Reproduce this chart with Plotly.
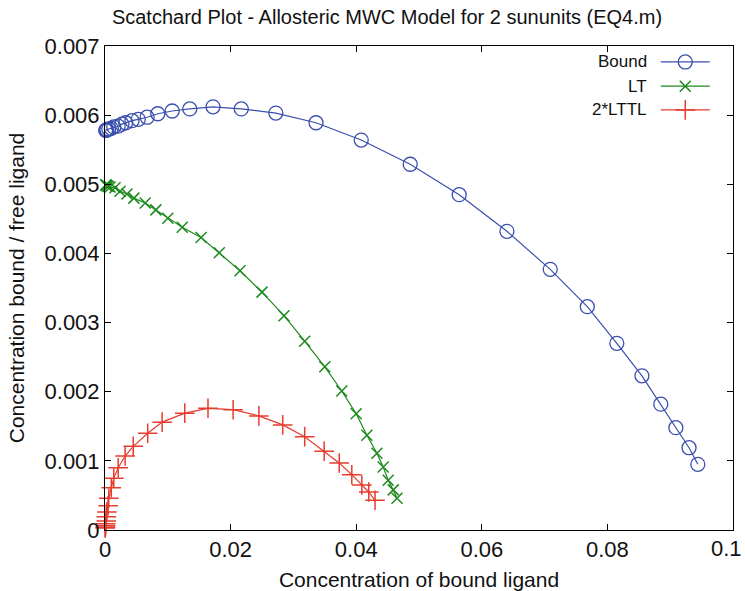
import plotly.graph_objects as go

# ---------------- data ----------------
bound_x = [0.0001, 0.0002, 0.0003, 0.0006, 0.0010, 0.0014, 0.0021, 0.0027, 0.0033,
           0.0043, 0.0053, 0.0067, 0.0084, 0.0107, 0.0135, 0.0172, 0.0217, 0.0272,
           0.0336, 0.0408, 0.0486, 0.0564, 0.0640, 0.0709, 0.0768, 0.0815, 0.0855,
           0.0885, 0.0909, 0.0930, 0.0944]
bound_y = [0.00578, 0.00578, 0.00579, 0.00580, 0.00581, 0.00583, 0.00584, 0.00587, 0.00589,
           0.00592, 0.00594, 0.00597, 0.00602, 0.00606, 0.00609, 0.00612, 0.00609, 0.00603,
           0.00589, 0.00564, 0.00529, 0.00485, 0.00432, 0.00377, 0.00323, 0.00270, 0.00223,
           0.00182, 0.00148, 0.00119, 0.00095]

lt_x = [0.0001, 0.0002, 0.0003, 0.0005, 0.0008, 0.0016, 0.0024, 0.0035, 0.0046,
        0.0064, 0.0081, 0.0100, 0.0123, 0.0153, 0.0182, 0.0215, 0.0250, 0.0285,
        0.0318, 0.0350, 0.0377, 0.0400, 0.0417, 0.0433, 0.0443, 0.0451, 0.0459, 0.0465]
lt_y = [0.00499, 0.00499, 0.00498, 0.00497, 0.00496, 0.00495, 0.00490, 0.00486, 0.00480,
        0.00473, 0.00463, 0.00451, 0.00438, 0.00423, 0.00401, 0.00375, 0.00344, 0.00310,
        0.00273, 0.00236, 0.00201, 0.00168, 0.00137, 0.00111, 0.00091, 0.00072, 0.00058, 0.00046]

lttl_x = [0.00003, 0.00005, 0.0001, 0.0001, 0.0002, 0.0002, 0.0003, 0.0005, 0.0006,
          0.0010, 0.0014, 0.0021, 0.0032, 0.0045, 0.0068, 0.0091, 0.0127, 0.0164,
          0.0204, 0.0245, 0.0283, 0.0318, 0.0349, 0.0373, 0.0393, 0.0409, 0.0420, 0.0430]
lttl_y = [0.00003, 0.00004, 0.00006, 0.00009, 0.00013, 0.00019, 0.00026, 0.00035, 0.00046,
          0.00061, 0.00075, 0.00090, 0.00107, 0.00121, 0.00140, 0.00156, 0.00169, 0.00176,
          0.00174, 0.00165, 0.00152, 0.00135, 0.00114, 0.00097, 0.00080, 0.00065, 0.00055, 0.00043]

series_names = ["Bound", "LT", "2*LTTL"]
x_ticks = [0, 0.02, 0.04, 0.06, 0.08, 0.1]
x_tick_labels = ["0", "0.02", "0.04", "0.06", "0.08", "0.1"]
y_ticks = [0, 0.001, 0.002, 0.003, 0.004, 0.005, 0.006, 0.007]
y_tick_labels = ["0", "0.001", "0.002", "0.003", "0.004", "0.005", "0.006", "0.007"]

# ---------------- styles ----------------
BLUE = "#3a4fae"
GREEN = "#1e8a1e"
RED = "#e53c2e"
FONT = "Liberation Sans, Arial, Helvetica, sans-serif"

styles = [
    dict(color=BLUE, symbol="circle-open", size=14, lw=1.3),
    dict(color=GREEN, symbol="x-thin", size=11, lw=1.5),
    dict(color=RED, symbol="cross-thin", size=14, lw=1.5),
]
datasets = [(bound_x, bound_y), (lt_x, lt_y), (lttl_x, lttl_y)]

fig = go.Figure()
for (xs, ys), st, name in zip(datasets, styles, series_names):
    fig.add_trace(go.Scatter(
        x=xs, y=ys, mode="lines+markers", name=name, showlegend=False,
        line=dict(color=st["color"], width=1.2),
        marker=dict(symbol=st["symbol"], size=st["size"], color=st["color"],
                    line=dict(color=st["color"], width=st["lw"])),
        cliponaxis=False,
    ))

# ---------------- custom legend (text left, sample right) ----------------
leg_rows = [0.967, 0.917, 0.868]
for name, st, yy in zip(series_names, styles, leg_rows):
    fig.add_annotation(x=0.866, y=yy, xref="paper", yref="paper", text=name,
                       showarrow=False, xanchor="right", yanchor="middle",
                       font=dict(family=FONT, size=17, color="#111"))
    fig.add_shape(type="line", xref="paper", yref="paper", x0=0.885, x1=0.963,
                  y0=yy, y1=yy, line=dict(color=st["color"], width=1.3))
    fig.add_trace(go.Scatter(
        x=[0.924], y=[yy], xaxis="x2", yaxis="y2", mode="markers", showlegend=False,
        marker=dict(symbol=st["symbol"], size=st["size"], color=st["color"],
                    line=dict(color=st["color"], width=st["lw"])),
        cliponaxis=False, hoverinfo="skip",
    ))

# last x tick label: keep it inside the page's right edge
x_labels_shown = x_tick_labels[:-1] + [""]
fig.add_annotation(x=1.0175, y=-0.039, xref="paper", yref="paper",
                   text=x_tick_labels[-1], showarrow=False,
                   xanchor="right", yanchor="middle",
                   font=dict(family=FONT, size=22, color="#111"))

axis_common = dict(
    showline=True, linecolor="black", linewidth=1, mirror="ticks",
    ticks="inside", ticklen=6, tickcolor="black", tickwidth=1,
    showgrid=False, zeroline=False,
    tickfont=dict(family=FONT, size=22, color="#111"),
)

fig.update_layout(
    width=745, height=591,
    margin=dict(l=105, r=12, t=46, b=61),
    paper_bgcolor="white", plot_bgcolor="white",
    title=dict(text="Scatchard Plot - Allosteric MWC Model for 2 sununits (EQ4.m)",
               x=0.449, xref="paper", xanchor="center",
               y=0.971, yref="container", yanchor="middle",
               font=dict(family=FONT, size=20, color="#111")),
    xaxis=dict(range=[0, 0.1000001], tickvals=x_ticks, ticktext=x_labels_shown,
               automargin=False,
               title=dict(text="Concentration of bound ligand", standoff=12,
                          font=dict(family=FONT, size=21, color="#111")),
               **axis_common),
    yaxis=dict(range=[0, 0.0070001], tickvals=y_ticks, ticktext=y_tick_labels,
               automargin=False,
               title=dict(text="Concentration bound / free ligand", standoff=14,
                          font=dict(family=FONT, size=21, color="#111")),
               **axis_common),
    xaxis2=dict(range=[0, 1], overlaying="x", visible=False, fixedrange=True),
    yaxis2=dict(range=[0, 1], overlaying="y", visible=False, fixedrange=True),
    showlegend=False,
)

fig.write_html("out.html")
